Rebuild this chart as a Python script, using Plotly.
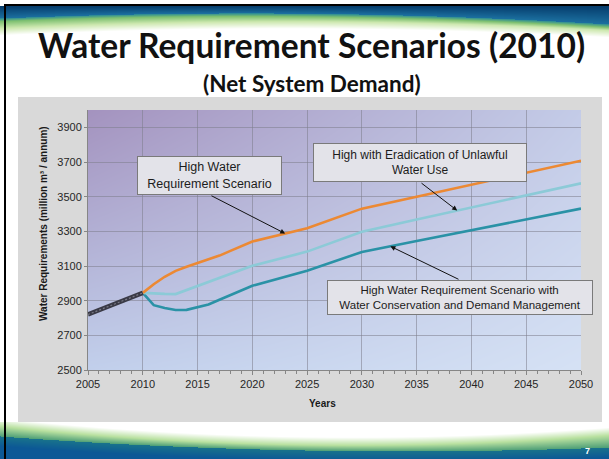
import base64
import struct
import zlib

import numpy as np
import plotly.graph_objects as go

# ---------------- data ----------------
x_ticks = [2005, 2010, 2015, 2020, 2025, 2030, 2035, 2040, 2045, 2050]
y_ticks = [2500, 2700, 2900, 3100, 3300, 3500, 3700, 3900]

years_hist = [2005, 2010]
demand_hist = [2820, 2945]

years = [2010, 2011, 2012, 2013, 2014, 2015, 2016, 2017, 2018, 2019, 2020,
         2025, 2030, 2035, 2040, 2045, 2050]
high = [2945, 2995, 3038, 3072, 3096, 3116, 3136, 3160, 3187, 3214, 3241,
        3318, 3431, 3500, 3569, 3638, 3707]
eradication = [2945, 2941, 2939, 2938, 2961, 2985, 3008, 3031, 3054, 3078, 3101,
               3183, 3298, 3368, 3438, 3507, 3577]
conservation = [2945, 2874, 2858, 2846, 2847, 2862, 2878, 2905, 2932, 2959, 2986,
                3072, 3181, 3244, 3306, 3369, 3431]

title = "Water Requirement Scenarios (2010)"
subtitle = "(Net System Demand)"
y_title = "Water Requirements (million m³ / annum)"
x_title = "Years"
label_high = "High Water<br>Requirement Scenario"
label_erad = "High with Eradication of Unlawful<br>Water Use"
label_cons = "High Water Requirement Scenario with<br>Water Conservation and Demand Management"
page_no = "7"

# ---------------- geometry ----------------
W, H = 609, 459
L, R, T, B = 88, 581, 110, 370
X0, X1 = 2005, 2050
Y0, Y1 = 2500, 4000


def px_x(px):  # pixel -> paper
    return (px - L) / (R - L)


def px_y(py):
    return (B - py) / (B - T)


def dx(px):  # pixel -> data
    return X0 + (px - L) / (R - L) * (X1 - X0)


def dy(py):
    return Y0 + (B - py) / (B - T) * (Y1 - Y0)


# ---------------- background picture (slide decoration) ----------------
def png_uri(arr):
    arr = np.clip(arr, 0, 255).astype(np.uint8)
    h, w, _ = arr.shape
    raw = b"".join(b"\x00" + arr[r].tobytes() for r in range(h))

    def chunk(tag, data):
        return (struct.pack(">I", len(data)) + tag + data
                + struct.pack(">I", zlib.crc32(tag + data) & 0xFFFFFFFF))

    png = (b"\x89PNG\r\n\x1a\n"
           + chunk(b"IHDR", struct.pack(">IIBBBBB", w, h, 8, 2, 0, 0, 0))
           + chunk(b"IDAT", zlib.compress(raw, 9))
           + chunk(b"IEND", b""))
    return "data:image/png;base64," + base64.b64encode(png).decode()


def mix(c1, c2, t):
    t = np.clip(t, 0, 1)[..., None]
    return np.array(c1, float) * (1 - t) + np.array(c2, float) * t


yy, xx = np.mgrid[0:H, 0:W].astype(float)
bg = np.full((H, W, 3), 255.0)
u = xx / W

# top swoosh
bb = 18 - 25.1 * u + 31.1 * u ** 2
gw = 10 - 4 * u
s = yy - bb
m = (yy >= 6) & (s < 0)
bg[m] = mix((6, 62, 110), (28, 112, 160), (yy - 6) / np.maximum(bb - 6, 1))[m]
m = (s >= 0) & (s < 3)
bg[m] = mix((45, 140, 150), (125, 192, 112), s / 3)[m]
m = (s >= 3) & (s < gw)
bg[m] = mix((125, 192, 112), (205, 232, 175), (s - 3) / (gw - 3))[m]
m = (s >= gw) & (s < gw + 7)
bg[m] = mix((205, 232, 175), (255, 255, 255), (s - gw) / 7)[m]

# bottom swoosh
d = 436 + 45 * u - 34 * u ** 2
gw2 = 10 - 20 * u + 22 * u ** 2
s2 = yy - d
m = (yy >= 422) & (s2 >= 0)
bg[m] = mix((25, 115, 140), (12, 88, 150), s2 / 10)[m]
m = (yy >= 422) & (s2 < 0) & (s2 >= -gw2)
bg[m] = mix((185, 225, 160), (80, 160, 120), (s2 + gw2) / gw2)[m]
m = (yy >= 422) & (s2 < -gw2) & (s2 >= -gw2 - 8)
bg[m] = mix((255, 255, 255), (185, 225, 160), (s2 + gw2 + 8) / 8)[m]

# grey panel
m = (xx >= 18) & (xx < 602) & (yy >= 97) & (yy < 422)
bg[m] = (217, 217, 217)

# plot-area gradient
ux = np.clip((xx - L) / (R - L), 0, 1)[..., None]
vy = np.clip((yy - T) / (B - T), 0, 1)[..., None]
TL = np.array((164, 147, 191.0))
TR = np.array((196, 204, 232.0))
BL = np.array((194, 208, 236.0))
BR = np.array((214, 226, 245.0))
grad = TL * (1 - ux) * (1 - vy) + TR * ux * (1 - vy) + BL * (1 - ux) * vy + BR * ux * vy
m = (xx >= L) & (xx < R) & (yy >= T) & (yy < B)
bg[m] = grad[m]

# slide border
bg[4:6, 4:, :] = 0
bg[4:, 4:6, :] = 0

bg_uri = png_uri(bg)

# ---------------- figure ----------------
fig = go.Figure()

fig.add_trace(go.Scatter(x=years, y=conservation, mode="lines",
                         line=dict(color="#2a92a6", width=2.6), hoverinfo="skip"))
fig.add_trace(go.Scatter(x=years, y=eradication, mode="lines",
                         line=dict(color="#8ccad7", width=2.6), hoverinfo="skip"))
fig.add_trace(go.Scatter(x=years, y=high, mode="lines",
                         line=dict(color="#ec8933", width=2.6), hoverinfo="skip"))
fig.add_trace(go.Scatter(x=years_hist, y=demand_hist, mode="lines",
                         line=dict(color="#3a3a46", width=4.5), hoverinfo="skip"))
fig.add_trace(go.Scatter(x=years_hist, y=demand_hist, mode="lines",
                         line=dict(color="rgba(200,200,212,0.45)", width=1.2, dash="2px,2px"),
                         hoverinfo="skip"))

axis_font = dict(family="Liberation Sans, Arial, sans-serif", size=11, color="#262626")
grid_col = "rgba(125,125,140,0.55)"

fig.update_layout(
    width=W, height=H,
    margin=dict(l=L, r=W - R, t=T, b=H - B, pad=0),
    paper_bgcolor="white",
    plot_bgcolor="rgba(0,0,0,0)",
    showlegend=False,
    images=[dict(source=bg_uri, xref="paper", yref="paper",
                 x=px_x(0), y=px_y(0), sizex=W / (R - L), sizey=H / (B - T),
                 xanchor="left", yanchor="top", sizing="stretch", layer="below")],
    xaxis=dict(range=[X0, X1], tickvals=x_ticks, showgrid=True, gridcolor=grid_col,
               gridwidth=1, zeroline=False, showline=True, linecolor="#868686",
               ticks="outside", ticklen=4, tickcolor="#868686", tickfont=axis_font,
               minor=dict(tickvals=list(range(X0, X1 + 1)), ticks="outside", ticklen=3,
                          tickcolor="#868686", showgrid=False),
               fixedrange=True),
    yaxis=dict(range=[Y0, Y1], tickvals=y_ticks, showgrid=True, gridcolor=grid_col,
               gridwidth=1, zeroline=False, showline=True, linecolor="#868686",
               ticks="outside", ticklen=3, tickcolor="#868686", tickfont=axis_font,
               fixedrange=True),
)

ann = []
# titles
ann.append(dict(text="<b>%s</b>" % title, xref="paper", yref="paper",
                x=px_x(311), y=px_y(45), xanchor="center", yanchor="middle",
                showarrow=False, font=dict(family="Lato, sans-serif", size=33.5, color="#111111")))
ann.append(dict(text="<b>%s</b>" % subtitle, xref="paper", yref="paper",
                x=px_x(312), y=px_y(84), xanchor="center", yanchor="middle",
                showarrow=False, font=dict(family="Lato, sans-serif", size=22.5, color="#111111")))
ann.append(dict(text="<b>%s</b>" % y_title, xref="paper", yref="paper",
                x=px_x(43), y=px_y(224), xanchor="center", yanchor="middle", textangle=-90,
                showarrow=False, font=dict(family="Liberation Sans, Arial, sans-serif",
                                           size=10, color="#1a1a1a")))
ann.append(dict(text="<b>%s</b>" % x_title, xref="paper", yref="paper",
                x=px_x(322), y=px_y(403), xanchor="center", yanchor="middle",
                showarrow=False, font=dict(family="Liberation Sans, Arial, sans-serif",
                                           size=10, color="#1a1a1a")))
ann.append(dict(text="<b>%s</b>" % page_no, xref="paper", yref="paper",
                x=px_x(587), y=px_y(451), xanchor="center", yanchor="middle",
                showarrow=False, font=dict(family="Liberation Sans, Arial, sans-serif",
                                           size=9, color="white")))

box_font = "Liberation Sans, Arial, sans-serif"


def box(text, x0, y0, x1, y1, size):
    return dict(text=text, xref="x", yref="y", x=dx((x0 + x1) / 2), y=dy((y0 + y1) / 2),
                xanchor="center", yanchor="middle", showarrow=False,
                width=x1 - x0 - 2, height=y1 - y0 - 2, borderpad=0,
                bgcolor="#e3e3e9", bordercolor="#7a7a7a", borderwidth=1,
                font=dict(family=box_font, size=size, color="#1c1c1c"), align="center")


def arrow(tail_px, head_year, series):
    head_val = float(np.interp(head_year, years, series))
    return dict(text="", xref="x", yref="y", x=head_year, y=head_val,
                axref="x", ayref="y", ax=dx(tail_px[0]), ay=dy(tail_px[1]),
                showarrow=True, arrowhead=2, arrowsize=1, arrowwidth=1,
                arrowcolor="#111111", standoff=0, startstandoff=0)


ann.append(arrow((210, 195), 2023.0, high))
ann.append(arrow((420, 182), 2038.7, eradication))
ann.append(arrow((460, 280), 2032.6, conservation))
ann.append(box(label_high, 137, 156, 282, 195, 12.5))
ann.append(box(label_erad, 313, 143, 527, 182, 12))
ann.append(box(label_cons, 327, 280, 593, 315, 11.5))

fig.update_layout(annotations=ann)

fig.write_html(
    "out.html",
    config={"displayModeBar": False, "staticPlot": True},
    post_script="document.body.style.margin='0';document.body.style.overflow='hidden';",
)
